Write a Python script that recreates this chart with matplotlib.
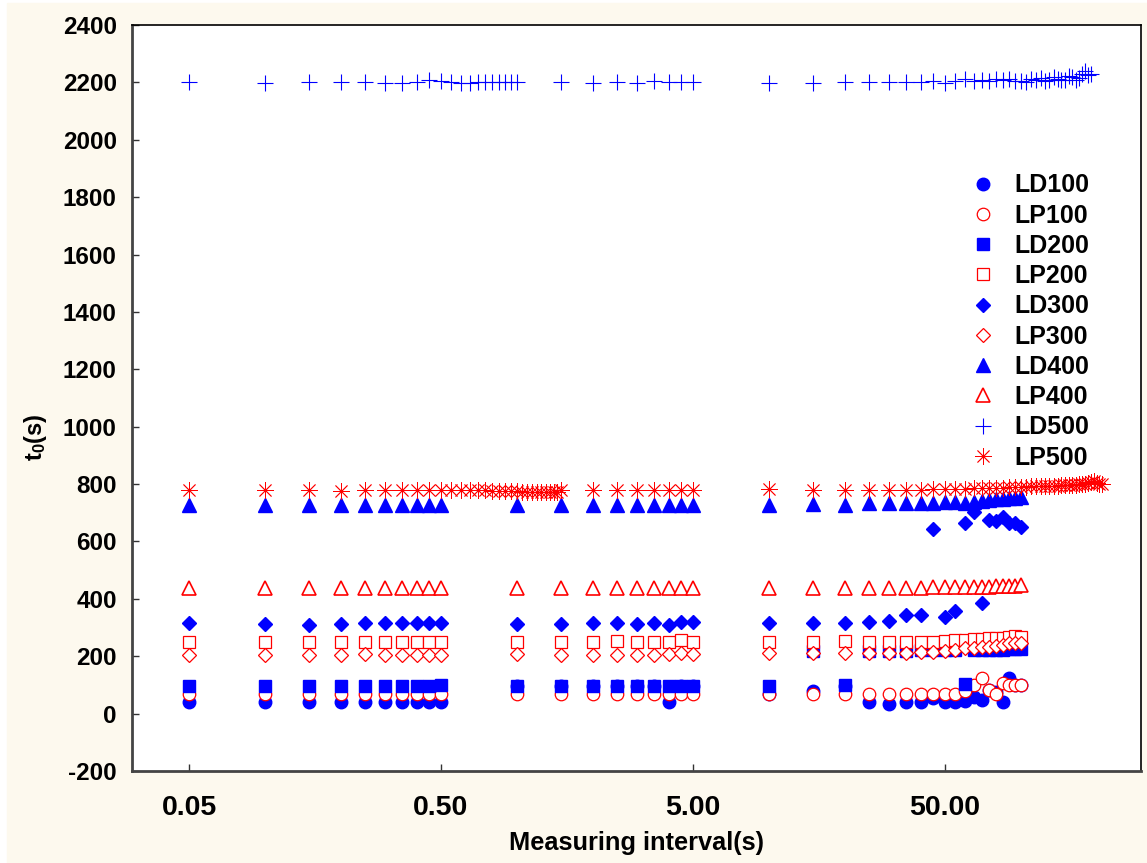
import matplotlib
matplotlib.use('Agg')
import matplotlib.pyplot as plt
from matplotlib.patches import Rectangle

plt.rcParams['font.family'] = ['Liberation Sans', 'DejaVu Sans']
plt.rcParams['font.weight'] = 'bold'
plt.rcParams['axes.labelweight'] = 'bold'
plt.rcParams['axes.unicode_minus'] = False
plt.rcParams['mathtext.fontset'] = 'custom'
plt.rcParams['mathtext.bf'] = 'Liberation Sans:bold'
plt.rcParams['mathtext.rm'] = 'Liberation Sans:bold'
plt.rcParams['mathtext.default'] = 'bf'

# measuring intervals (s)
x_a = [0.05, 0.10, 0.15, 0.20, 0.25, 0.30, 0.35, 0.40, 0.45, 0.50]
x_b = [1.0, 1.5, 2.0, 2.5, 3.0, 3.5, 4.0, 4.5, 5.0]
x_c = [10, 15, 20, 25, 30, 35, 40, 45, 50]
x_d = [55, 60, 65, 70, 75, 80, 85, 90, 95, 100]
x_fine = [0.55, 0.60, 0.65, 0.70, 0.75, 0.80, 0.85, 0.90, 0.95]
x_fine2 = [1.05, 1.10, 1.15, 1.20, 1.25, 1.30, 1.35, 1.40, 1.45]
x_long = [105, 110, 115, 120, 125, 130, 135, 140, 145, 150, 155, 160, 165,
          170, 175, 180, 185, 190]
x_long2 = [195, 200, 205, 210]

interval = x_a + x_b + x_c + x_d
interval_ld500 = x_a + x_fine + x_b + x_c + x_d + x_long
interval_lp500 = x_a + x_fine + x_b[:1] + x_fine2 + x_b[1:] + x_c + x_d + x_long + x_long2

# t0 (s), same order as the interval lists
ld100 = [40, 40, 40, 40, 40, 40, 40, 40, 40, 40,
         95, 95, 95, 95, 95, 95, 40, 95, 95,
         70, 78, 95, 39, 33, 39, 39, 55, 39,
         40, 45, 59, 47, 82, 76, 41, 123, 100, 100]
lp100 = [70, 70, 70, 70, 70, 70, 70, 70, 70, 70,
         70, 70, 70, 70, 70, 70, 70, 70, 70,
         70, 70, 70, 70, 70, 70, 70, 70, 70,
         70, 80, 100, 124, 82, 70, 108, 100, 100, 100]
ld200 = [95, 95, 95, 95, 95, 95, 95, 95, 95, 100,
         95, 95, 95, 95, 95, 95, 95, 95, 95,
         95, 218, 100, 218, 218, 218, 220, 220, 220,
         220, 103, 222, 222, 222, 222, 222, 224, 224, 224]
lp200 = [248, 248, 248, 248, 248, 248, 248, 248, 248, 248,
         248, 248, 248, 254, 248, 248, 248, 255, 248,
         248, 248, 252, 248, 248, 250, 250, 250, 252,
         256, 258, 260, 260, 262, 262, 264, 266, 270, 268]
ld300 = [315, 312, 310, 312, 315, 315, 315, 315, 315, 315,
         312, 312, 315, 315, 312, 315, 310, 318, 318,
         315, 315, 315, 318, 324, 343, 343, 643, 338,
         357, 663, 703, 386, 675, 671, 684, 663, 663, 651]
lp300 = [203, 203, 203, 203, 208, 205, 203, 203, 203, 203,
         208, 203, 203, 205, 205, 205, 208, 210, 208,
         210, 210, 210, 210, 212, 212, 214, 216, 218,
         222, 229, 229, 233, 233, 235, 239, 245, 245, 246]
ld400 = [727, 727, 727, 727, 727, 727, 727, 727, 727, 727,
         727, 727, 727, 727, 727, 727, 727, 727, 727,
         727, 730, 727, 733, 733, 733, 733, 735, 738,
         738, 735, 738, 742, 745, 747, 747, 750, 752, 756]
lp400 = [437, 437, 437, 437, 437, 437, 437, 437, 437, 437,
         437, 437, 437, 437, 437, 437, 437, 437, 437,
         437, 437, 437, 437, 437, 437, 437, 440, 440,
         440, 442, 442, 442, 442, 444, 444, 445, 445, 447]
ld500 = [2202, 2198, 2203, 2202, 2202, 2198, 2198, 2203, 2207, 2204,
         2200, 2198, 2198, 2200, 2202, 2202, 2202, 2203, 2202,
         2200, 2202, 2198, 2202, 2198, 2204, 2202, 2202, 2200,
         2198, 2198, 2202, 2202, 2200, 2202, 2200, 2204, 2198,
         2205, 2212, 2205, 2208, 2205, 2212, 2210, 2212, 2205, 2206,
         2202, 2212, 2210, 2215, 2205, 2210, 2220, 2212, 2208, 2210,
         2222, 2218, 2208, 2215, 2230, 2240, 2225, 2228]
lp500 = [780, 780, 780, 776, 780, 780, 780, 780, 780, 780,
         778, 778, 778, 778, 778, 776, 776, 776, 776,
         776,
         774, 774, 774, 774, 774, 774, 774, 774, 774,
         778, 778, 778, 778, 778, 780, 780, 780,
         782, 778, 780, 780, 780, 780, 780, 782, 782,
         784, 784, 786, 786, 786, 788, 788, 790, 790, 790,
         790, 792, 792, 792, 792, 794, 794, 794, 796, 796, 796,
         798, 798, 800, 800, 802, 804, 806, 812, 804, 800, 800]

names = ['LD100', 'LP100', 'LD200', 'LP200', 'LD300',
         'LP300', 'LD400', 'LP400', 'LD500', 'LP500']
series = [(interval, ld100), (interval, lp100), (interval, ld200),
          (interval, lp200), (interval, ld300), (interval, lp300),
          (interval, ld400), (interval, lp400),
          (interval_ld500, ld500), (interval_lp500, lp500)]

blue = '#0000ff'
red = '#ff0000'
estilos = [
    dict(marker='o', mfc=blue, mec=blue, ms=9),
    dict(marker='o', mfc='white', mec=red, ms=9, mew=0.9),
    dict(marker='s', mfc=blue, mec=blue, ms=8.5),
    dict(marker='s', mfc='white', mec=red, ms=8.5, mew=0.9),
    dict(marker='D', mfc=blue, mec=blue, ms=7),
    dict(marker='D', mfc='white', mec=red, ms=7, mew=0.9),
    dict(marker='^', mfc=blue, mec=blue, ms=9.5),
    dict(marker='^', mfc='white', mec=red, ms=9.5, mew=1.2),
    dict(marker='+', mfc=blue, mec=blue, ms=11, mew=0.8),
    dict(marker=(8, 2, 0), mfc=red, mec=red, ms=12, mew=0.6),
]

fig = plt.figure(figsize=(11.47, 8.63), dpi=100)
fig.patches.append(Rectangle((7 / 1147, 0), 1, 1 - 3 / 863,
                             transform=fig.transFigure, color='#fdf9ee',
                             zorder=-10))
ax = fig.add_axes([132 / 1147, 1 - 771 / 863, 1009 / 1147, 746 / 863])

for (xs, ys), nombre, est in zip(series, names, estilos):
    ax.plot(xs, ys, linestyle='none', label=nombre, **est)

ax.set_xscale('log')
ax.set_xlim(0.0297, 300)
ax.set_ylim(-200, 2400)
ax.set_xticks([0.05, 0.5, 5, 50])
ax.set_xticklabels(['0.05', '0.50', '5.00', '50.00'])
ax.minorticks_off()
ax.set_yticks(range(-200, 2401, 200))
ax.tick_params(axis='both', direction='in', length=5, width=1, colors='#333333',
               labelcolor='black')
ax.tick_params(axis='y', labelsize=17.5, pad=11)
ax.tick_params(axis='x', labelsize=20.5, pad=17)

for lado in ['left', 'bottom']:
    ax.spines[lado].set_linewidth(2)
    ax.spines[lado].set_color('#444444')
for lado in ['top', 'right']:
    ax.spines[lado].set_linewidth(1.2)
    ax.spines[lado].set_color('black')

ax.set_xlabel('Measuring interval(s)', fontsize=18.3)
ax.set_ylabel('t$_0$(s)', fontsize=17)
ax.xaxis.set_label_coords(0.5, -0.097)
ax.xaxis.label.set_va('center')
ax.yaxis.set_label_coords(-0.096, 0.448)
ax.yaxis.label.set_va('center')

ax.legend(loc='upper left', bbox_to_anchor=(0.819, 0.818), frameon=False,
          fontsize=18, handlelength=1.0, handletextpad=0.74, labelspacing=0.25,
          borderpad=0, numpoints=1)

plt.savefig('out.png', dpi=100)
